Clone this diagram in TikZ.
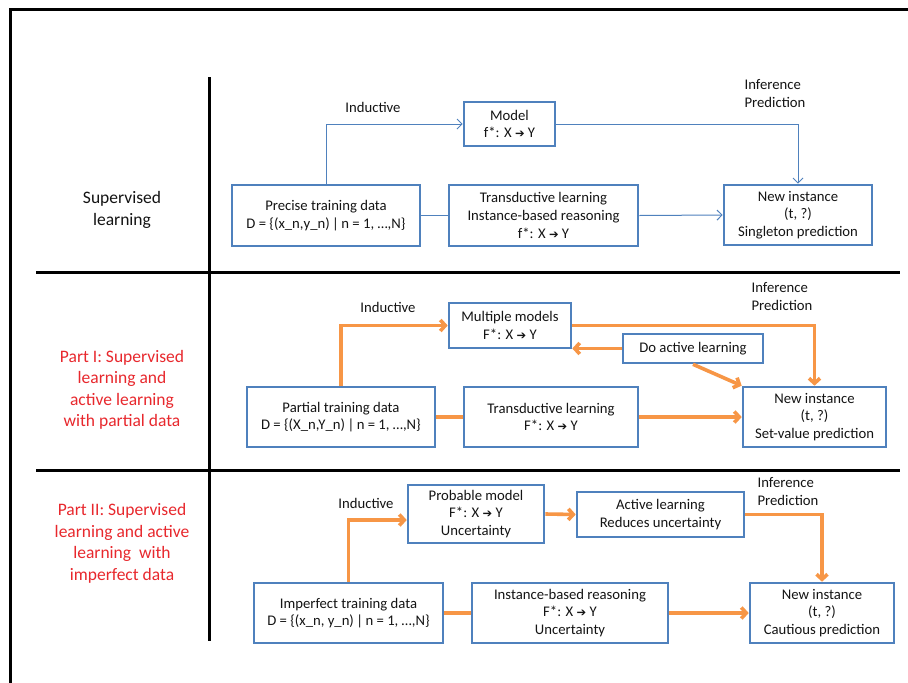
\documentclass[tikz,border=0pt]{standalone}
\usepackage{fontspec}
\setmainfont{Carlito}
\newfontfamily\arrfont{DejaVu Sans}
\usetikzlibrary{arrows.meta}
\definecolor{boxblue}{RGB}{79,129,189}
\definecolor{lineorange}{RGB}{247,150,70}
\definecolor{labelred}{RGB}{232,40,45}
\definecolor{txt}{RGB}{20,20,20}
\newcommand{\xyarr}{{\arrfont\fontsize{11.5}{12}\selectfont ➔}}
\begin{document}
\begin{tikzpicture}[x=1pt,y=-1pt,
  every node/.style={font=\fontsize{14.7}{17.6}\selectfont, text=txt},
  box/.style={draw=boxblue, line width=2.6pt, fill=white, align=center, inner sep=1pt},
  blueconn/.style={boxblue, line width=1pt},
  bluearr/.style={blueconn, -{Straight Barb[length=5pt,width=10pt]}},
  orconn/.style={lineorange, line width=3.6pt},
  orarr/.style={orconn, -{Straight Barb[length=5pt,width=11pt]}},
  framestyle/.style={black, line width=3pt},
  lbl/.style={align=left},
  sidelbl/.style={align=center, font=\fontsize{17.5}{21.5}\selectfont},
]
\useasboundingbox (0,0) rectangle (908,683);
\fill[white] (0,0) rectangle (908,683);

% frame and grid lines
\draw[framestyle] (10,683) -- (10,9) -- (908,9);
\draw[framestyle] (36,272) -- (900,272);
\draw[framestyle] (36,470) -- (900,470);
\draw[framestyle] (209,77) -- (209,641);

% side labels
\node[sidelbl] (sl) at (122,210) {Supervised\\learning};
\node[sidelbl, text=labelred] (p1) at (122,390) {Part I: Supervised\\learning and\\active learning\\with partial data};
\node[sidelbl, text=labelred] (p2) at (122,543.5) {Part II: Supervised\\learning and active\\learning~ with\\imperfect data};

% ---------- top section ----------
\node[box, minimum width=91pt, minimum height=44pt] (model) at (509.5,124) {Model\\f*: X \xyarr{} Y};
\node[box, minimum width=188pt, minimum height=61pt] (precise) at (326,215.5) {Precise training data\\D = \{(x\_n,y\_n)\,|\,n = 1, …,N\}};
\node[box, minimum width=189pt, minimum height=61pt] (trans1) at (543.5,215.5) {Transductive learning\\Instance-based reasoning\\f*: X \xyarr{} Y};
\node[box, minimum width=148pt, minimum height=60pt] (new1) at (798,215) {New instance\\(t, ?)\\Singleton prediction};
\node (ind1) at (373,107) {Inductive};
\node[lbl] (inf1) at (775,93.5) {Inference\\Prediction};

\draw[bluearr] (precise.north) |- (model.west);
\draw[bluearr] (model.east) -| (new1.north);
\draw[blueconn] (precise.east) -- (trans1.west);
\draw[bluearr] (trans1.east) -- (new1.west);

% ---------- middle section ----------
\node[box, minimum width=122pt, minimum height=45pt] (multi) at (510,325.5) {Multiple models\\F*: X \xyarr{} Y};
\node[box, minimum width=140pt, minimum height=29pt] (dal) at (693,348.5) {Do active learning};
\node[box, minimum width=188pt, minimum height=60pt] (partial) at (341,417) {Partial training data\\D = \{(X\_n,Y\_n)\,|\,n = 1, …,N\}};
\node[box, minimum width=174pt, minimum height=60pt] (trans2) at (551,417) {Transductive learning\\F*: X \xyarr{} Y};
\node[box, minimum width=143pt, minimum height=60pt] (new2) at (814.5,417) {New instance\\(t, ?)\\Set-value prediction};
\node (ind2) at (388,307) {Inductive};
\node[lbl] (inf2) at (782,296.5) {Inference\\Prediction};

\draw[orarr] (partial.north) |- (multi.west);
\draw[orarr] (multi.east) -| (new2.north);
\draw[orarr] (dal.west) -- (dal.west -| multi.east);
\draw[orarr] (dal.south) -- (new2.north west);
\draw[orconn] (partial.east) -- (trans2.west);
\draw[orarr] (trans2.east) -- (new2.west);

% ---------- bottom section ----------
\node[box, minimum width=136pt, minimum height=58pt] (prob) at (476,514) {Probable model\\F*: X \xyarr{} Y\\Uncertainty};
\node[box, minimum width=167pt, minimum height=45pt] (al) at (660.5,514.5) {Active learning\\Reduces uncertainty};
\node[box, minimum width=189pt, minimum height=60pt] (imperf) at (348.5,613) {Imperfect training data\\D = \{(x\_n, y\_n)\,|\,n = 1, …,N\}};
\node[box, minimum width=196pt, minimum height=60pt] (ibr) at (570,613) {Instance-based reasoning\\F*: X \xyarr{} Y\\Uncertainty};
\node[box, minimum width=144pt, minimum height=60pt] (new3) at (822,613) {New instance\\(t, ?)\\Cautious prediction};
\node (ind3) at (366,503) {Inductive};
\node[lbl] (inf3) at (788,491.5) {Inference\\Prediction};

\draw[orarr] (imperf.north) |- ([yshift=-6pt]prob.west);
\draw[orarr] (prob.east) -- (al.west);
\draw[orarr] (al.east) -| (new3.north);
\draw[orconn] (imperf.east) -- (ibr.west);
\draw[orarr] (ibr.east) -- (new3.west);
\end{tikzpicture}
\end{document}
